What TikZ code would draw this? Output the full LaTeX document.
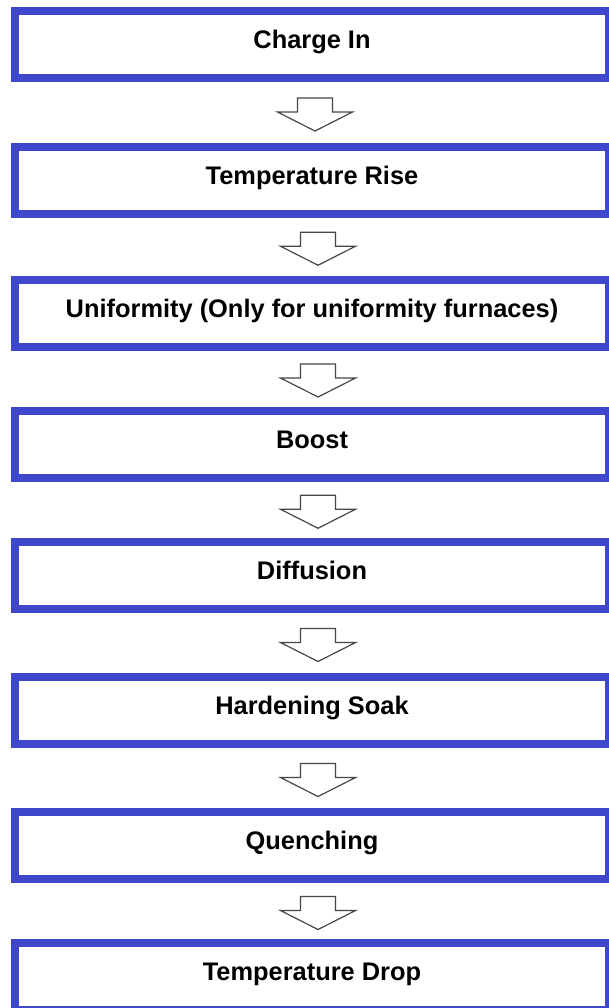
\documentclass[tikz,border=0pt]{standalone}
\usepackage{fontspec}
\setmainfont{Liberation Sans}
\usetikzlibrary{calc}
\definecolor{boxblue}{RGB}{63,72,204}
\definecolor{arrowgray}{RGB}{70,70,70}
\begin{document}
\begin{tikzpicture}[x=0.75pt,y=-0.75pt,
  stage/.style={draw=boxblue, line width=6pt, fill=white,
    minimum width=445.5pt, minimum height=50.25pt, inner sep=0pt,
    text height=6pt, text depth=0pt, text=black,
    font=\bfseries\fontsize{19.05}{22}\selectfont},
  flowline/.style={draw=arrowgray, line width=0.9pt, fill=white, line join=miter},
  downarrow/.pic={
    \path[flowline] (-17.5,-16.5) -- (17.5,-16.5) -- (17.5,-2.5) -- (37.5,-2.5)
      -- (0,16.5) -- (-37.5,-2.5) -- (-17.5,-2.5) -- cycle;
  }]
\useasboundingbox (0,0) rectangle (608,1008);
\fill[white] (0,0) rectangle (608,1008);

% process stages
\node[stage] (b1) at (312,44.5)  {Charge In};
\node[stage] (b2) at (312,180.5) {Temperature Rise};
\node[stage] (b3) at (312,313)   {Uniformity (Only for uniformity furnaces)};
\node[stage] (b4) at (312,444)   {Boost};
\node[stage] (b5) at (312,575.5) {Diffusion};
\node[stage] (b6) at (312,710.5) {Hardening Soak};
\node[stage] (b7) at (312,845.5) {Quenching};
\node[stage] (b8) at (312,976.5) {Temperature Drop};

% block arrows between consecutive stages
\pic at ($(b1.south)!0.5!(b2.north)+(3,2)$) {downarrow};
\pic at ($(b2.south)!0.5!(b3.north)+(6,2)$) {downarrow};
\pic at ($(b3.south)!0.5!(b4.north)+(6,2)$) {downarrow};
\pic at ($(b4.south)!0.5!(b5.north)+(6,2)$) {downarrow};
\pic at ($(b5.south)!0.5!(b6.north)+(6,2)$) {downarrow};
\pic at ($(b6.south)!0.5!(b7.north)+(6,2)$) {downarrow};
\pic at ($(b7.south)!0.5!(b8.north)+(6,2)$) {downarrow};
\end{tikzpicture}
\end{document}
